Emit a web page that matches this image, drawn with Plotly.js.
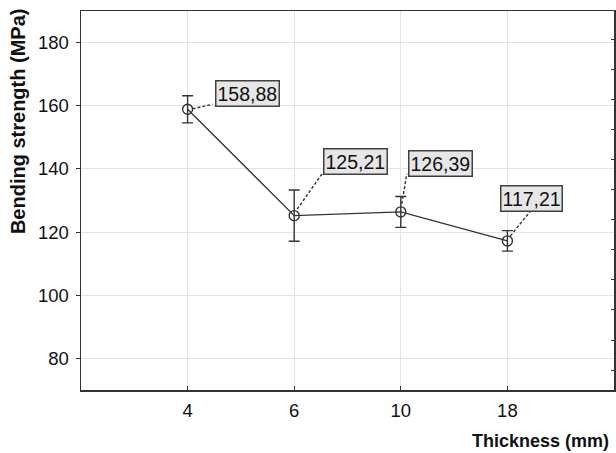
<!DOCTYPE html>
<html>
<head>
<meta charset="utf-8">
<script src="https://cdn.plot.ly/plotly-3.0.1.min.js"></script>
<style>html,body{margin:0;padding:0;background:#fff;}#chart{width:616px;height:453px;}</style>
</head>
<body>
<div id="chart"></div>
<div id="err" style="position:absolute;left:100px;top:20px;color:red;font:12px sans-serif;"></div>
<script>
var thickness = ['4', '6', '10', '18'];
var strength = [158.88, 125.21, 126.39, 117.21];
var errorHalf = [4.3, 8.1, 4.9, 3.25];
var valueLabels = ['158,88', '125,21', '126,39', '117,21'];

// label box offsets (pixels, relative to the point) and leader line ends
var labelShiftX = [59.5, 61.5, 40, 24.5];
var labelShiftY = [15.5, 54.5, 48.8, 42.8];
var leadStart = [[5, 0.5], [3, 6.5], [1, 8], [3, 5]];
var leadEnd = [[25, 5], [28, 42], [6, 38], [24, 31]];

var pos = thickness.map(function (t, i) { return i; });

var dark = '#333333';
var font = 'Liberation Sans, Arial, sans-serif';

window.onerror = function (m) { document.getElementById('err').textContent += m + ' | '; };

var trace = {
  x: pos, y: strength, type: 'scatter', mode: 'lines+markers',
  line: {color: dark, width: 1.3},
  marker: {symbol: 'circle-open', size: 10, color: dark, line: {width: 1.4, color: dark}},
  error_y: {type: 'data', array: errorHalf, visible: true, color: dark, thickness: 1.4, width: 5.5},
  hoverinfo: 'skip', showlegend: false
};
var trace2 = {x: pos, y: [null, null, null, null], yaxis: 'y2', type: 'scatter', mode: 'markers', showlegend: false, hoverinfo: 'skip'};

var annotations = [];
var shapes = [];
for (var i = 0; i < pos.length; i++) {
  annotations.push({
    x: pos[i], y: strength[i], xref: 'x', yref: 'y',
    text: valueLabels[i], showarrow: false,
    xanchor: 'center', yanchor: 'middle',
    xshift: labelShiftX[i], yshift: labelShiftY[i],
    bgcolor: '#e6e6e6', bordercolor: '#404040', borderwidth: 1.5, borderpad: 1,
    font: {family: font, size: 19.5, color: '#111'}
  });
  shapes.push({
    type: 'line', xref: 'x', yref: 'y',
    xsizemode: 'pixel', ysizemode: 'pixel',
    xanchor: pos[i], yanchor: strength[i],
    x0: leadStart[i][0], y0: leadStart[i][1], x1: leadEnd[i][0], y1: leadEnd[i][1],
    line: {color: '#333', width: 1.4, dash: '3px,2px'}
  });
}
annotations.push({
  text: 'Bending strength (MPa)', xref: 'paper', yref: 'paper',
  x: -0.118, y: (390 - 121) / 379, xanchor: 'center', yanchor: 'middle', textangle: -90, showarrow: false,
  font: {family: font, size: 20, color: '#111', weight: 'bold'}
});
annotations.push({
  text: 'Thickness (mm)', xref: 'paper', yref: 'paper',
  x: 0.995, y: -0.1346, xanchor: 'right', yanchor: 'middle', showarrow: false,
  font: {family: font, size: 18, color: '#111', weight: 'bold'}
});

var layout = {
  width: 616, height: 453,
  margin: {l: 81, r: 2, t: 11, b: 63},
  paper_bgcolor: '#fff', plot_bgcolor: '#fff',
  font: {family: font, size: 18.5, color: '#111'},
  xaxis: {
    range: [-1, 4], tickvals: pos, ticktext: thickness,
    showgrid: true, gridcolor: '#e4e4e4', gridwidth: 1,
    showline: true, linecolor: dark, linewidth: 1.5, mirror: true,
    ticks: 'inside', ticklen: 4, tickcolor: dark, tickwidth: 1, ticklabelstandoff: 3,
    tickfont: {family: font, size: 18.5, color: '#111'}, zeroline: false
  },
  yaxis: {
    range: [70, 190], tickvals: [80, 100, 120, 140, 160, 180],
    showgrid: true, gridcolor: '#e4e4e4', gridwidth: 1,
    showline: true, linecolor: dark, linewidth: 1.5, mirror: true,
    ticks: 'outside', ticklen: 4, tickcolor: dark, tickwidth: 1, ticklabelstandoff: 3,
    tickfont: {family: font, size: 18.5, color: '#111'}, zeroline: false
  },
  yaxis2: {
    overlaying: 'y', side: 'right', range: [0, 12.59], tick0: 0.66, dtick: 1,
    showgrid: false, zeroline: false, showticklabels: false, showline: false,
    ticks: 'inside', ticklen: 3, tickcolor: dark, tickwidth: 1
  },
  annotations: annotations,
  shapes: shapes
};

Plotly.newPlot('chart', [trace, trace2], layout, {staticPlot: true, displayModeBar: false})
  .catch(function (e) { document.getElementById('err').textContent += String(e); });
</script>
</body>
</html>
